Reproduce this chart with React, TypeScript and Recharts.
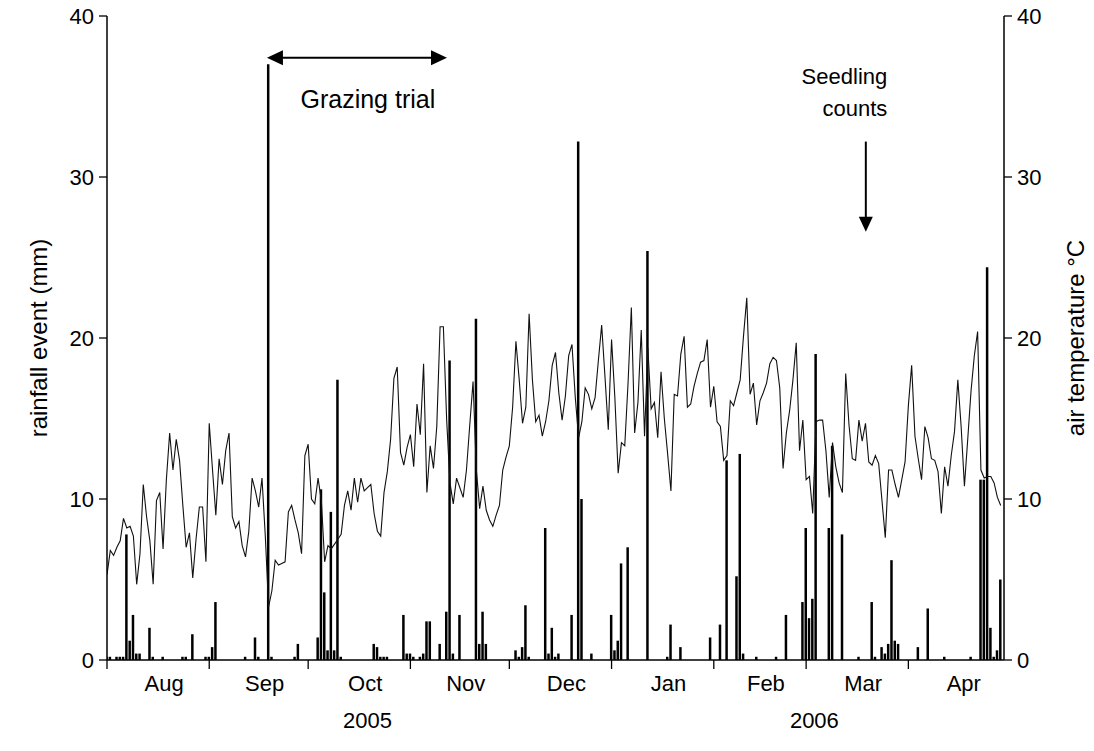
import React from "react";
import {
  ComposedChart, Bar, Line, XAxis, YAxis, ReferenceLine, ReferenceDot,
} from "recharts";

// daily series, index 0 = 1 Aug 2005
const airTemp = [
  5.3, 6.8, 6.5, 7.0, 7.4, 8.8, 8.2, 8.3, 7.7, 4.7,
  6.6, 10.9, 8.9, 7.4, 4.7, 9.9, 10.4, 6.9, 11.2, 14.1,
  11.8, 13.7, 12.4, 9.6, 7.0, 7.9, 5.1, 7.5, 9.5, 9.5,
  6.1, 14.7, 11.8, 9.0, 12.5, 10.9, 13.0, 14.1, 8.9, 8.2,
  8.6, 7.1, 6.4, 8.0, 11.3, 10.5, 9.5, 11.3, 7.7, 3.3,
  4.3, 6.2, 5.9, 6.0, 6.1, 9.2, 9.6, 8.7, 7.9, 6.6,
  12.7, 13.4, 10.0, 9.7, 11.3, 9.9, 6.1, 7.1, 6.9, 7.2,
  7.5, 7.8, 9.6, 10.5, 9.3, 11.3, 9.8, 11.3, 10.5, 10.7,
  10.9, 9.1, 8.0, 7.7, 10.4, 11.7, 13.7, 17.5, 18.2, 12.9,
  12.1, 13.2, 14.0, 12.0, 15.9, 14.0, 18.4, 10.4, 13.3, 11.9,
  14.5, 20.7, 20.7, 14.9, 11.0, 9.7, 11.3, 10.7, 10.1, 11.8,
  14.6, 17.3, 11.8, 9.4, 10.8, 9.3, 8.7, 8.3, 9.0, 9.6,
  11.8, 12.6, 13.3, 15.7, 19.8, 17.4, 14.7, 15.7, 21.5, 17.4,
  14.8, 15.2, 13.9, 14.8, 16.1, 18.3, 19.1, 16.6, 14.9, 16.4,
  18.9, 19.6, 16.3, 13.8, 14.8, 16.9, 16.5, 15.6, 16.3, 18.6,
  20.8, 17.6, 14.3, 19.9, 16.3, 11.6, 13.5, 13.3, 17.2, 21.9,
  14.1, 16.0, 20.5, 13.9, 19.4, 15.6, 16.0, 13.8, 17.9, 15.0,
  12.8, 10.5, 16.5, 16.4, 19.0, 20.1, 15.7, 15.9, 17.0, 17.8,
  18.5, 18.6, 19.9, 15.7, 17.0, 14.8, 14.5, 12.4, 12.7, 16.1,
  15.8, 16.6, 17.4, 20.1, 22.5, 16.5, 17.2, 14.6, 16.1, 16.6,
  17.2, 18.4, 18.8, 18.6, 16.9, 11.9, 14.1, 15.5, 17.4, 19.7,
  13.0, 14.9, 11.2, 11.4, 9.1, 14.8, 14.9, 14.9, 13.0, 10.1,
  13.5, 12.0, 11.0, 10.4, 17.8, 14.6, 12.5, 12.4, 14.9, 13.6,
  14.7, 12.3, 12.1, 12.7, 12.2, 9.9, 7.6, 11.8, 11.8, 10.9,
  10.1, 11.2, 12.3, 15.8, 18.3, 13.9, 12.5, 11.2, 14.5, 13.8,
  12.5, 12.4, 11.7, 9.1, 12.0, 10.8, 12.7, 14.2, 17.4, 14.5,
  10.8, 13.7, 16.7, 18.9, 20.4, 11.8, 11.3, 11.4, 11.4, 11.0,
  10.1, 9.6,
];

// rain events: day index and mm
const rainDay = [
  0, 1, 3, 4, 5, 6, 7, 8, 9, 10, 13, 14, 17, 23, 24, 26, 30, 31, 32, 33,
  42, 45, 46, 49, 50, 57, 58, 64, 65, 66, 67, 68, 69, 70, 71,
  81, 82, 83, 84, 85, 90, 91, 92, 93, 95, 96, 97, 98, 101, 103, 104, 105, 107,
  112, 113, 114, 115, 124, 125, 126, 127, 128, 133, 134, 135, 136, 137,
  141, 143, 144, 147, 153, 154, 155, 156, 158, 164, 170, 171, 174,
  183, 186, 188, 191, 192, 193, 197, 203, 206, 211, 212, 213, 214, 215,
  219, 220, 223, 228, 232, 233, 235, 236, 237, 238, 239, 240, 246, 249,
  254, 262, 265, 266, 267, 268, 269, 270, 271,
];
const rainMm = [
  0.2, 0.2, 0.2, 0.2, 0.2, 7.8, 1.2, 2.8, 0.4, 0.4, 2.0, 0.2, 0.2, 0.2, 0.2, 1.6, 0.2, 0.2, 0.8, 3.6,
  0.2, 1.4, 0.2, 37.0, 0.2, 0.2, 1.0, 1.4, 10.6, 4.2, 0.6, 9.2, 0.6, 17.4, 0.2,
  1.0, 0.8, 0.2, 0.2, 0.2, 2.8, 0.4, 0.4, 0.2, 0.2, 0.4, 2.4, 2.4, 1.0, 3.0, 18.6, 0.4, 2.8,
  21.2, 1.0, 3.0, 1.0, 0.6, 0.2, 0.8, 3.4, 0.2, 8.2, 0.4, 2.0, 0.2, 0.4,
  2.8, 32.2, 10.0, 0.4, 2.8, 0.6, 1.2, 6.0, 7.0, 25.4, 0.2, 2.2, 0.8,
  1.4, 2.2, 12.4, 5.2, 12.8, 0.4, 0.2, 0.2, 2.8, 3.6, 8.2, 2.6, 3.8, 19.0,
  8.2, 13.3, 7.8, 0.2, 3.6, 0.2, 0.8, 0.4, 1.0, 6.2, 1.2, 1.0, 0.8, 3.2,
  0.2, 0.2, 11.2, 11.2, 24.4, 2.0, 0.2, 0.6, 5.0,
];

const monthNames = ["Aug", "Sep", "Oct", "Nov", "Dec", "Jan", "Feb", "Mar", "Apr"];
const monthStarts = [0, 31, 61, 92, 122, 153, 184, 212, 243];
const lastDay = 272;
const yearNames = ["2005", "2006"];
const yearCentres = [79, 214.5];
const yTicks = [0, 10, 20, 30, 40];

const FONT = '"Liberation Sans", Arial, sans-serif';

const data = airTemp.map((t, i) => ({ day: i, temp: t, rain: 0 }));
rainDay.forEach((d, i) => { data[d].rain = rainMm[i]; });

const monthEnds = [...monthStarts.slice(1), lastDay + 1];
const monthLabelPos = monthStarts.map((s, i) => (s + monthEnds[i]) / 2 + 1.8);

const MonthTick = (props: any) => {
  const { x, y, payload } = props;
  const v = payload.value;
  if (monthStarts.includes(v)) {
    return <line x1={x} x2={x} y1={y} y2={y + 9} stroke="#000" strokeWidth={1.3} />;
  }
  const j = monthLabelPos.indexOf(v);
  return (
    <text x={x} y={y + 31} textAnchor="middle" fontSize={22} fontFamily={FONT} fill="#000">
      {monthNames[j]}
    </text>
  );
};

const YearTick = (props: any) => {
  const { x, y, payload } = props;
  const j = yearCentres.indexOf(payload.value);
  return (
    <text x={x} y={y + 28} textAnchor="middle" fontSize={22} fontFamily={FONT} fill="#000">
      {yearNames[j]}
    </text>
  );
};

const GrazingArrow = (p: any) => {
  const { x1, x2, y1 } = p;
  const a = Math.min(x1, x2), b = Math.max(x1, x2);
  return (
    <g>
      <line x1={a + 12} x2={b - 12} y1={y1} y2={y1} stroke="#000" strokeWidth={2} />
      <polygon points={`${a},${y1} ${a + 16},${y1 - 7.5} ${a + 16},${y1 + 7.5}`} fill="#000" />
      <polygon points={`${b},${y1} ${b - 16},${y1 - 7.5} ${b - 16},${y1 + 7.5}`} fill="#000" />
    </g>
  );
};

const SeedlingArrow = (p: any) => {
  const { x1, y1, y2 } = p;
  const top = Math.min(y1, y2), tip = Math.max(y1, y2);
  return (
    <g>
      <line x1={x1} x2={x1} y1={top} y2={tip - 12} stroke="#000" strokeWidth={2} />
      <polygon points={`${x1},${tip} ${x1 - 7},${tip - 15} ${x1 + 7},${tip - 15}`} fill="#000" />
    </g>
  );
};

const GrazingText = (p: any) => (
  <text x={p.cx} y={p.cy + 8} textAnchor="middle" fontSize={25} fontFamily={FONT} fill="#000">
    Grazing trial
  </text>
);

const SeedlingText = (p: any) => (
  <text textAnchor="end" fontSize={22} fontFamily={FONT} fill="#000">
    <tspan x={p.cx} y={p.cy - 8}>Seedling</tspan>
    <tspan x={p.cx} y={p.cy + 24}>counts</tspan>
  </text>
);

const axisTick = { fontSize: 22, fill: "#000", fontFamily: FONT };

export default function App() {
  return (
    <div style={{ position: "absolute", left: 0, top: 0, background: "#fff" }}>
      <ComposedChart
        width={1094}
        height={751}
        data={data}
        margin={{ top: 16, right: 0, bottom: 0, left: 0 }}
        style={{ fontFamily: FONT }}
      >
        <XAxis
          xAxisId="main"
          dataKey="day"
          type="number"
          domain={[0, lastDay]}
          ticks={[...monthStarts, ...monthLabelPos]}
          interval={0}
          tick={<MonthTick />}
          tickLine={false}
          tickSize={0}
          tickMargin={0}
          axisLine={{ stroke: "#000", strokeWidth: 1.5 }}
          height={40}
          allowDataOverflow
        />
        <XAxis
          xAxisId="year"
          dataKey="day"
          type="number"
          domain={[0, lastDay]}
          ticks={yearCentres}
          interval={0}
          tick={<YearTick />}
          tickLine={false}
          tickSize={0}
          tickMargin={0}
          axisLine={false}
          height={51}
        />
        <XAxis
          xAxisId="top"
          orientation="top"
          dataKey="day"
          type="number"
          domain={[0, lastDay]}
          tick={false}
          tickLine={false}
          axisLine={{ stroke: "#000", strokeWidth: 1.2 }}
          height={0}
        />
        <YAxis
          yAxisId="left"
          domain={[0, 40]}
          ticks={yTicks}
          width={107}
          tickSize={8}
          tickMargin={5}
          tick={axisTick}
          tickLine={{ stroke: "#000", strokeWidth: 1.3 }}
          axisLine={{ stroke: "#000", strokeWidth: 1.5 }}
          label={{
            content: (lp: any) => {
              const vb = lp.viewBox;
              const cx = vb.x + 38;
              const cy = vb.y + vb.height / 2;
              return (
                <text x={cx} y={cy} transform={`rotate(-90 ${cx} ${cy})`} textAnchor="middle"
                  dominantBaseline="central" fontSize={24} fontFamily={FONT} fill="#000">
                  rainfall event (mm)
                </text>
              );
            },
          }}
        />
        <YAxis
          yAxisId="right"
          orientation="right"
          domain={[0, 40]}
          ticks={yTicks}
          width={90}
          tickSize={8}
          tickMargin={5}
          tick={axisTick}
          tickLine={{ stroke: "#000", strokeWidth: 1.3 }}
          axisLine={{ stroke: "#000", strokeWidth: 1.5 }}
          label={{
            content: (lp: any) => {
              const vb = lp.viewBox;
              const cx = vb.x + 71;
              const cy = vb.y + vb.height / 2;
              return (
                <text x={cx} y={cy} transform={`rotate(-90 ${cx} ${cy})`} textAnchor="middle"
                  dominantBaseline="central" fontSize={24} fontFamily={FONT} fill="#000">
                  air temperature °C
                </text>
              );
            },
          }}
        />
        <Line
          xAxisId="main"
          yAxisId="right"
          type="linear"
          dataKey="temp"
          stroke="#111"
          strokeWidth={1.1}
          dot={false}
          isAnimationActive={false}
        />
        <Bar
          xAxisId="main"
          yAxisId="left"
          dataKey="rain"
          fill="#000"
          barSize={2.5}
          isAnimationActive={false}
        />
        <ReferenceLine
          xAxisId="main"
          yAxisId="left"
          segment={[{ x: 48.5, y: 37.4 }, { x: 103.1, y: 37.4 }]}
          shape={GrazingArrow}
          ifOverflow="visible"
        />
        <ReferenceDot
          xAxisId="main"
          yAxisId="left"
          x={79.1}
          y={34.8}
          shape={GrazingText}
          ifOverflow="visible"
        />
        <ReferenceLine
          xAxisId="main"
          yAxisId="left"
          segment={[{ x: 230.1, y: 32.2 }, { x: 230.1, y: 26.6 }]}
          shape={SeedlingArrow}
          ifOverflow="visible"
        />
        <ReferenceDot
          xAxisId="main"
          yAxisId="left"
          x={236.6}
          y={35.3}
          shape={SeedlingText}
          ifOverflow="visible"
        />
      </ComposedChart>
    </div>
  );
}
